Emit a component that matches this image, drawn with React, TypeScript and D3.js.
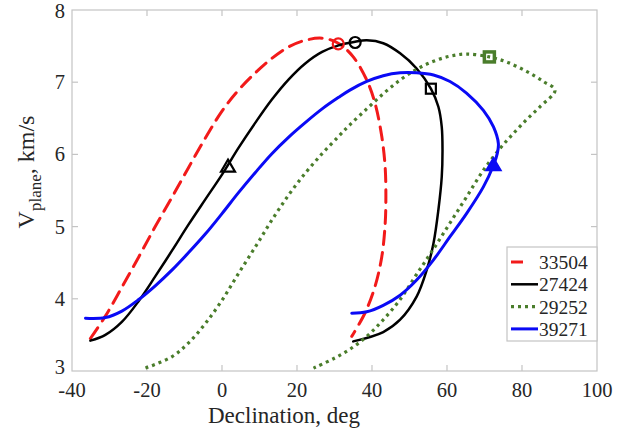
import React, { useEffect, useRef } from 'react';
import * as d3 from 'd3';

// curves (declination deg, speed km/s)
const redX = [-35.1, -31.1, -26.7, -22.2, -17.8, -13.3, -8.9, -4.4, 0, 4.4, 8.9, 13.3, 17.8, 22.2, 26.7, 31, 35, 38.6, 40.8, 42.6, 43.5, 43.7, 43.5, 42.6, 40.8, 38.1, 34.6];
const redY = [3.45, 3.76, 4.16, 4.58, 5.0, 5.41, 5.82, 6.23, 6.6, 6.89, 7.13, 7.33, 7.49, 7.58, 7.61, 7.54, 7.35, 7.03, 6.71, 6.25, 5.83, 5.41, 5.03, 4.58, 4.17, 3.8, 3.48];

const blackX = [-35.1, -31.1, -26.7, -22.2, -17.8, -13.3, -8.9, -4.4, 0, 4.4, 8.9, 13.3, 17.8, 22.2, 26.7, 31.1, 35.5, 38.6, 43, 47.5, 51.9, 55.7, 57.7, 58.6, 58.8, 58.6, 57.7, 56.4, 54.6, 51.9, 47.5, 43, 35];
const blackY = [3.42, 3.5, 3.68, 3.97, 4.31, 4.67, 5.03, 5.38, 5.72, 6.09, 6.44, 6.76, 7.04, 7.26, 7.42, 7.51, 7.56, 7.58, 7.54, 7.4, 7.19, 6.91, 6.66, 6.38, 6.06, 5.69, 5.23, 4.77, 4.4, 4.03, 3.71, 3.54, 3.41];

const greenX = [-20.4, -13.3, -8.9, -4.4, 0, 4.4, 8.9, 13.3, 17.8, 22.2, 26.7, 31.1, 34.1, 38.6, 43, 47.5, 51.9, 56.4, 60.8, 65.2, 71.3, 75.9, 81.2, 85.7, 88.8, 84.8, 81.2, 77.7, 74.1, 69.7, 65.2, 60.8, 56.4, 51.9, 47.5, 43, 38.6, 34.1, 29.7, 24.4];
const greenY = [3.04, 3.2, 3.39, 3.66, 3.98, 4.35, 4.72, 5.09, 5.44, 5.74, 6.01, 6.25, 6.41, 6.63, 6.84, 7.03, 7.18, 7.29, 7.36, 7.39, 7.35, 7.28, 7.15, 7.01, 6.89, 6.66, 6.48, 6.29, 6.08, 5.78, 5.41, 5.05, 4.69, 4.34, 3.99, 3.71, 3.48, 3.3, 3.17, 3.04];

const blueX = [-36.4, -31.1, -26.7, -22.2, -17.8, -13.3, -8.9, -4.4, 0, 4.4, 8.9, 13.3, 17.8, 22.2, 26.7, 31.1, 34.1, 38.6, 43, 47.5, 51.9, 56.4, 60.8, 65.2, 69.7, 72.4, 73.7, 73.4, 72.4, 69.7, 65.2, 60.8, 56.4, 51.9, 47.5, 43, 38.6, 34.6];
const blueY = [3.73, 3.74, 3.83, 3.99, 4.18, 4.4, 4.64, 4.9, 5.18, 5.47, 5.75, 6.01, 6.24, 6.44, 6.63, 6.79, 6.89, 7.01, 7.09, 7.13, 7.13, 7.1, 7.01, 6.85, 6.61, 6.38, 6.15, 6.01, 5.85, 5.55, 5.18, 4.86, 4.54, 4.26, 4.05, 3.91, 3.82, 3.8];

const seriesNames = ['33504', '27424', '29252', '39271'];
const xTicks = [-40, -20, 0, 20, 40, 60, 80, 100];
const yTicks = [3, 4, 5, 6, 7, 8];

// special points marked on the curves
const markerKind = ['circle', 'circle', 'square', 'triangle', 'square', 'triangle'];
const markerX = [31, 35.5, 55.7, 1.6, 71.3, 72.4];
const markerY = [7.53, 7.55, 6.91, 5.83, 7.35, 5.85];
const markerSeries = [0, 1, 1, 1, 2, 3];

const FONT = '"Liberation Serif", "Times New Roman", serif';
const AXIS = '#c4c4c4';
const TEXT = '#262626';

export default function App() {
    const ref = useRef<SVGSVGElement>(null);

    useEffect(() => {
        const svg = d3.select(ref.current);
        svg.selectAll('*').remove();

        const x = d3.scaleLinear().domain([-40, 100]).range([72, 597]);
        const y = d3.scaleLinear().domain([3, 8]).range([371, 10]);

        const styles = [
            { color: '#f21a1a', width: 3, dash: '13,8' },
            { color: '#000000', width: 2.5, dash: null },
            { color: '#4a7d2b', width: 3.2, dash: '3,4' },
            { color: '#0a0af5', width: 3, dash: null },
        ];
        const data = [
            [redX, redY],
            [blackX, blackY],
            [greenX, greenY],
            [blueX, blueY],
        ];

        // axes box
        svg.append('rect')
            .attr('x', 72).attr('y', 10)
            .attr('width', 525).attr('height', 361)
            .attr('fill', 'white')
            .attr('stroke', AXIS).attr('stroke-width', 1.2);

        const ticks = svg.append('g').attr('stroke', AXIS).attr('stroke-width', 1.2);
        xTicks.slice(1, -1).forEach(t => {
            ticks.append('line').attr('x1', x(t)).attr('x2', x(t)).attr('y1', 371).attr('y2', 365);
            ticks.append('line').attr('x1', x(t)).attr('x2', x(t)).attr('y1', 10).attr('y2', 16);
        });
        yTicks.slice(1, -1).forEach(t => {
            ticks.append('line').attr('x1', 72).attr('x2', 78).attr('y1', y(t)).attr('y2', y(t));
            ticks.append('line').attr('x1', 597).attr('x2', 591).attr('y1', y(t)).attr('y2', y(t));
        });

        svg.append('g')
            .selectAll('text')
            .data(xTicks)
            .join('text')
                .attr('x', d => x(d))
                .attr('y', 397)
                .attr('text-anchor', 'middle')
                .attr('font-family', FONT)
                .attr('font-size', 20.5)
                .attr('fill', TEXT)
                .text(d => d);

        // end labels nudged inside so they do not collide
        svg.append('g')
            .selectAll('text')
            .data(yTicks)
            .join('text')
                .attr('x', 65)
                .attr('y', d => Math.min(Math.max(y(d) + 7, 18), 373.5))
                .attr('text-anchor', 'end')
                .attr('font-family', FONT)
                .attr('font-size', 20.5)
                .attr('fill', TEXT)
                .text(d => d);

        // axis titles
        svg.append('text')
            .attr('x', 284).attr('y', 423)
            .attr('text-anchor', 'middle')
            .attr('font-family', FONT).attr('font-size', 23)
            .attr('fill', TEXT)
            .text('Declination, deg');

        const yl = svg.append('text')
            .attr('transform', 'translate(34, 172) rotate(-90)')
            .attr('text-anchor', 'middle')
            .attr('font-family', FONT).attr('font-size', 24)
            .attr('fill', TEXT);
        yl.append('tspan').text('V');
        yl.append('tspan').attr('font-size', 17).attr('dy', 7).text('plane');
        yl.append('tspan').attr('dy', -7).text(', km/s');

        // curves
        const line = d3.line<number>()
            .x(d => d[0])
            .y(d => d[1])
            .curve(d3.curveCatmullRom.alpha(0.5));

        const plot = svg.append('g');
        data.forEach(([xs, ys], i) => {
            const pts = xs.map((v, j) => [x(v), y(ys[j])]);
            plot.append('path')
                .attr('d', line(pts as any))
                .attr('fill', 'none')
                .attr('stroke', styles[i].color)
                .attr('stroke-width', styles[i].width)
                .attr('stroke-dasharray', styles[i].dash)
                .attr('stroke-linecap', i === 2 ? 'butt' : 'round');
        });

        // markers
        markerKind.forEach((k, i) => {
            const s = styles[markerSeries[i]];
            const cx = x(markerX[i]);
            const cy = y(markerY[i]);
            let m;
            if (k === 'circle') {
                m = plot.append('circle').attr('cx', cx).attr('cy', cy).attr('r', 5.5);
            } else if (k === 'square') {
                m = plot.append('rect').attr('x', cx - 5).attr('y', cy - 5).attr('width', 10).attr('height', 10);
            } else {
                m = plot.append('path').attr('d', `M${cx},${cy - 7}L${cx + 7},${cy + 5}L${cx - 7},${cy + 5}Z`);
            }
            m.attr('fill', markerSeries[i] === 3 ? s.color : 'none')
                .attr('stroke', s.color)
                .attr('stroke-width', markerSeries[i] === 2 ? 3.5 : 2.2);
        });

        // legend
        const lg = svg.append('g');
        lg.append('rect')
            .attr('x', 507).attr('y', 247)
            .attr('width', 90).attr('height', 94)
            .attr('fill', 'white')
            .attr('stroke', AXIS).attr('stroke-width', 1.2);
        seriesNames.forEach((name, i) => {
            const ly = 262 + i * 22.3;
            lg.append('line')
                .attr('x1', 511).attr('x2', 538)
                .attr('y1', ly).attr('y2', ly)
                .attr('stroke', styles[i].color)
                .attr('stroke-width', styles[i].width)
                .attr('stroke-dasharray', i === 0 ? '12,30' : styles[i].dash);
            lg.append('text')
                .attr('x', 539).attr('y', ly + 7)
                .attr('font-family', FONT).attr('font-size', 19.5)
                .attr('fill', TEXT)
                .text(name);
        });
    }, []);

    return (
        <svg ref={ref} width={635} height={429}
            style={{ position: 'absolute', left: 0, top: 0, background: 'white' }} />
    );
}
